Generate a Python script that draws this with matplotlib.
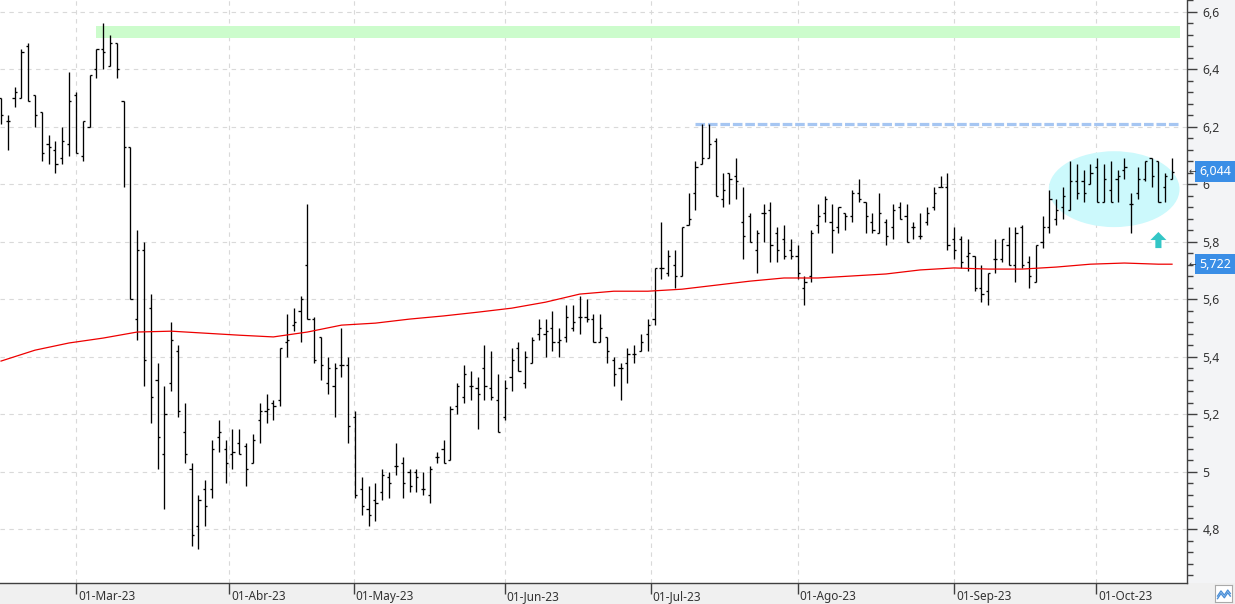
import matplotlib
matplotlib.use('Agg')
import matplotlib.pyplot as plt
from matplotlib.patches import Rectangle, Ellipse
from matplotlib.ticker import MultipleLocator, FuncFormatter
import matplotlib.transforms as mtransforms

plt.rcParams['font.family'] = ['Noto Sans', 'DejaVu Sans']

# Daily bars, 14-Feb-23 .. 17-Oct-23 (trading days)
opens = [6.30, 6.22, 6.30, 6.30, 6.48, 6.31, 6.25, 6.14, 6.12, 6.09, 6.14,
         6.31, 6.10, 6.20, 6.40, 6.47, 6.41, 6.49, 6.29, 6.13, 5.53, 5.77, 5.57,
         5.32, 5.06, 5.31, 5.42, 5.14, 5.01, 4.81, 4.94, 4.94, 5.12, 5.08,
         5.06, 5.10, 5.09, 5.03, 5.18, 5.21, 5.24, 5.25, 5.45, 5.51, 5.56, 5.72,
         5.53, 5.47, 5.31, 5.30, 5.37, 5.37,
         5.19, 4.94, 4.87, 4.90, 4.93, 4.98, 5.02, 5.03, 5.00, 5.00, 4.94, 4.92,
         5.05, 5.08, 5.04, 5.23, 5.26, 5.30, 5.29, 5.36, 5.29, 5.25,
         5.19, 5.33, 5.43, 5.31, 5.38, 5.48, 5.48, 5.50, 5.45, 5.47, 5.50, 5.54,
         5.54, 5.53, 5.45, 5.47, 5.39, 5.36, 5.38, 5.41, 5.42, 5.48,
         5.53, 5.71, 5.69, 5.72, 5.68, 5.86, 5.97, 6.07, 6.09, 6.15, 5.95, 6.04,
         6.03, 5.87, 5.89, 5.77, 5.90, 5.91, 5.83, 5.81, 5.77,
         5.75, 5.64, 5.68, 5.86, 5.90, 5.87, 5.85, 5.90, 5.89, 5.97, 5.94, 5.87,
         5.83, 5.87, 5.85, 5.92, 5.89, 5.85, 5.82, 5.87, 5.92, 5.99, 5.99,
         5.81, 5.81, 5.75, 5.75, 5.64, 5.63, 5.74, 5.74, 5.79, 5.72, 5.85, 5.73,
         5.66, 5.80, 5.85, 5.88, 5.92, 5.91, 6.01, 6.01, 6.00,
         6.06, 5.94, 5.98, 6.02, 6.05, 5.93, 5.97, 6.02, 6.09, 6.08, 5.99, 6.02]
highs = [6.30, 6.24, 6.34, 6.47, 6.49, 6.31, 6.25, 6.17, 6.15, 6.20, 6.39,
         6.32, 6.22, 6.38, 6.47, 6.56, 6.52, 6.49, 6.29, 6.13, 5.84, 5.80, 5.62,
         5.38, 5.30, 5.52, 5.44, 5.24, 5.03, 4.92, 4.97, 5.11, 5.18, 5.11,
         5.15, 5.15, 5.10, 5.13, 5.24, 5.27, 5.25, 5.43, 5.55, 5.57, 5.61, 5.93,
         5.54, 5.47, 5.40, 5.38, 5.50, 5.40,
         5.21, 4.98, 4.95, 4.96, 5.01, 5.00, 5.10, 5.05, 5.01, 5.01, 5.00, 5.02,
         5.07, 5.11, 5.23, 5.31, 5.37, 5.35, 5.33, 5.44, 5.42, 5.34,
         5.32, 5.43, 5.45, 5.42, 5.47, 5.53, 5.53, 5.56, 5.50, 5.58, 5.58, 5.61,
         5.60, 5.55, 5.55, 5.47, 5.40, 5.38, 5.43, 5.44, 5.48, 5.53,
         5.71, 5.87, 5.77, 5.77, 5.85, 5.97, 6.08, 6.21, 6.21, 6.16, 6.04, 6.04,
         6.09, 5.99, 5.90, 5.84, 5.93, 5.94, 5.85, 5.86, 5.81,
         5.79, 5.68, 5.84, 5.93, 5.96, 5.93, 5.92, 5.90, 5.98, 6.02, 5.94, 5.90,
         5.97, 5.88, 5.93, 5.94, 5.93, 5.87, 5.90, 5.92, 5.99, 6.03, 6.04,
         5.85, 5.82, 5.81, 5.75, 5.72, 5.69, 5.81, 5.81, 5.85, 5.85, 5.86, 5.75,
         5.79, 5.89, 5.98, 5.95, 5.99, 6.08, 6.07, 6.05, 6.07,
         6.09, 6.07, 6.08, 6.05, 6.09, 5.97, 6.06, 6.08, 6.09, 6.08, 6.04, 6.09]
lows = [6.21, 6.12, 6.27, 6.30, 6.29, 6.20, 6.08, 6.07, 6.04, 6.07, 6.10,
        6.11, 6.08, 6.20, 6.37, 6.40, 6.41, 6.37, 5.99, 5.60, 5.46, 5.30, 5.17,
        5.01, 4.87, 5.28, 5.19, 5.03, 4.74, 4.73, 4.81, 4.91, 5.07, 4.96,
        5.01, 5.06, 4.95, 5.03, 5.10, 5.17, 5.18, 5.23, 5.40, 5.49, 5.45, 5.53,
        5.38, 5.32, 5.27, 5.19, 5.33, 5.10,
        4.91, 4.85, 4.81, 4.83, 4.90, 4.91, 4.99, 4.91, 4.93, 4.93, 4.92, 4.89,
        5.03, 5.03, 5.04, 5.20, 5.24, 5.25, 5.15, 5.25, 5.25, 5.14,
        5.18, 5.28, 5.35, 5.29, 5.38, 5.46, 5.40, 5.42, 5.40, 5.45, 5.49, 5.48,
        5.52, 5.45, 5.45, 5.38, 5.30, 5.25, 5.31, 5.38, 5.42, 5.42,
        5.51, 5.67, 5.68, 5.64, 5.68, 5.86, 5.91, 6.07, 6.09, 5.96, 5.92, 5.93,
        5.95, 5.74, 5.80, 5.69, 5.80, 5.73, 5.73, 5.74, 5.74,
        5.67, 5.58, 5.66, 5.83, 5.87, 5.76, 5.83, 5.84, 5.87, 5.94, 5.83, 5.83,
        5.83, 5.79, 5.81, 5.88, 5.80, 5.81, 5.81, 5.86, 5.91, 5.99, 5.77,
        5.74, 5.71, 5.70, 5.63, 5.59, 5.58, 5.69, 5.73, 5.72, 5.66, 5.71, 5.64,
        5.66, 5.78, 5.83, 5.86, 5.88, 5.91, 5.95, 5.94, 6.00,
        5.94, 5.94, 5.94, 5.94, 6.02, 5.83, 5.95, 6.01, 5.99, 5.94, 5.94, 6.02]
closes = [6.24, 6.22, 6.32, 6.46, 6.29, 6.24, 6.11, 6.13, 6.07, 6.15, 6.29,
          6.11, 6.22, 6.38, 6.47, 6.46, 6.49, 6.40, 6.13, 5.60, 5.77, 5.39, 5.26,
          5.12, 5.20, 5.46, 5.21, 5.06, 4.78, 4.90, 4.88, 5.08, 5.14, 5.03,
          5.07, 5.06, 5.01, 5.11, 5.21, 5.22, 5.23, 5.43, 5.46, 5.52, 5.60, 5.53,
          5.39, 5.37, 5.36, 5.36, 5.37, 5.16,
          4.92, 4.88, 4.85, 4.89, 4.99, 4.96, 5.02, 4.96, 4.95, 4.98, 4.94, 5.01,
          5.05, 5.03, 5.22, 5.30, 5.34, 5.30, 5.27, 5.30, 5.26, 5.14,
          5.29, 5.39, 5.35, 5.40, 5.46, 5.50, 5.49, 5.45, 5.46, 5.54, 5.52, 5.54,
          5.53, 5.45, 5.50, 5.42, 5.34, 5.36, 5.41, 5.41, 5.45, 5.51,
          5.71, 5.71, 5.75, 5.68, 5.85, 5.88, 6.06, 6.09, 6.14, 5.96, 5.98, 6.02,
          6.01, 5.82, 5.80, 5.83, 5.90, 5.79, 5.77, 5.75, 5.75,
          5.69, 5.66, 5.83, 5.89, 5.95, 5.84, 5.92, 5.89, 5.97, 5.95, 5.89, 5.84,
          5.90, 5.82, 5.91, 5.88, 5.80, 5.85, 5.82, 5.90, 5.97, 5.99, 5.79,
          5.77, 5.73, 5.76, 5.64, 5.62, 5.69, 5.74, 5.81, 5.72, 5.83, 5.72, 5.68,
          5.79, 5.85, 5.95, 5.91, 5.96, 6.01, 5.97, 5.97, 6.04,
          5.94, 6.02, 5.94, 6.03, 6.06, 5.93, 6.02, 6.08, 6.03, 5.94, 6.03, 6.044]

# 200-session moving average, read every 5 sessions
ma_idx = [0, 5, 10, 15, 20, 25, 30, 35, 40, 45, 50, 55, 60, 65, 70, 75, 80, 85,
          90, 95, 100, 105, 110, 115, 120, 125, 130, 135, 140, 145, 150, 155,
          160, 165, 170, 172]
ma_vals = [5.385, 5.423, 5.448, 5.465, 5.486, 5.489, 5.482, 5.475, 5.469, 5.486,
           5.510, 5.517, 5.531, 5.542, 5.555, 5.569, 5.590, 5.618, 5.628, 5.628,
           5.635, 5.649, 5.663, 5.674, 5.674, 5.681, 5.688, 5.702, 5.709, 5.705,
           5.705, 5.712, 5.722, 5.726, 5.722, 5.722]

month_pos = [11, 33.5, 51.8, 74, 95.4, 117, 140, 160.9]
month_labels = ['01-Mar-23', '01-Abr-23', '01-May-23', '01-Jun-23',
                '01-Jul-23', '01-Ago-23', '01-Sep-23', '01-Oct-23']

last_close = 6.044
last_ma = 5.722
resistance = 6.209
top_zone = (6.509, 6.550)

x = list(range(len(closes)))
W, H = 1235, 604

fig = plt.figure(figsize=(W / 100, H / 100), dpi=100, facecolor='#f0f0f0')
fig.patches.append(Rectangle((1187 / W, 21 / H), 48 / W, 583 / H, transform=fig.transFigure,
                             facecolor='#f3f4f6', edgecolor='none', zorder=-1))
ax = fig.add_axes([0, 21 / H, 1187 / W, 583 / H])
ax.set_facecolor('white')
ax.set_xlim(-0.15, 174.2)
ax.set_ylim(4.613, 6.641)

# annotations drawn under the bars
ax.add_patch(Rectangle((13.95, top_zone[0]), 173.1 - 13.95, top_zone[1] - top_zone[0],
                       facecolor='#ccfccc', edgecolor='none', zorder=1))
ax.hlines(resistance, 101.9, 173.1, colors='#a6c6f2', lw=2.3,
          linestyles=(0, (3, 0.9)), zorder=1)
ax.add_patch(Ellipse((163.5, 5.983), 19.2, 0.264, facecolor='#ccf9fc',
                     edgecolor='none', zorder=1.5))
ax.arrow(170.0, 5.778, 0, 0.056, width=0.9, head_width=2.35, head_length=0.028,
         length_includes_head=True, color='#33c6c6', lw=0, zorder=2)

# OHLC bars
ax.vlines(x, lows, highs, colors='black', lw=0.95, zorder=3)
ax.hlines(opens, [i - 0.32 for i in x], x, colors='black', lw=0.95, zorder=3)
ax.hlines(closes, x, [i + 0.32 for i in x], colors='black', lw=0.95, zorder=3)

ax.plot(ma_idx, ma_vals, color='#ee0000', lw=0.9, zorder=4)

# axes styling
for s in ['top', 'left']:
    ax.spines[s].set_visible(False)
for s in ['right', 'bottom']:
    ax.spines[s].set_color('#404040')
    ax.spines[s].set_linewidth(1.0)

ax.yaxis.tick_right()
ax.yaxis.set_major_locator(MultipleLocator(0.2))
ax.yaxis.set_minor_locator(MultipleLocator(0.04))
ax.yaxis.set_major_formatter(FuncFormatter(lambda v, p: f'{round(v, 2):g}'.replace('.', ',')))
ax.tick_params(axis='y', which='major', direction='out', length=7, width=1,
               color='#404040', labelsize=8.8, labelcolor='#333333', pad=4,
               right=True, labelright=True, left=False, labelleft=False)
ax.tick_params(axis='y', which='minor', direction='out', length=4, width=1,
               color='#404040', right=True, left=False)

ax.set_xticks(month_pos)
ax.set_xticklabels(month_labels)
ax.tick_params(axis='x', direction='out', length=8, width=1, color='#404040',
               labelsize=8.5, labelcolor='#333333', pad=-3)
offset = mtransforms.ScaledTranslation(2 / 100, 0, fig.dpi_scale_trans)
for lbl in ax.get_xticklabels():
    lbl.set_ha('left')
    lbl.set_transform(lbl.get_transform() + offset)

ax.grid(True, which='major', ls=(0, (4, 4)), color='#d9d9d9', lw=0.8)
ax.set_axisbelow(True)

# last value boxes on the price axis
for val in [last_close, last_ma]:
    ax.text(1.0 + 12 / 1187, val, f'{val:.3f}'.replace('.', ','),
            transform=ax.get_yaxis_transform(), va='center', ha='left',
            fontsize=9, color='white', zorder=10, clip_on=False,
            bbox=dict(boxstyle='square,pad=0.3', facecolor='#3a8ee6', edgecolor='none'))
    ax.text(1.0 + 2 / 1187, val, '←', transform=ax.get_yaxis_transform(),
            va='center', ha='left', fontsize=6.5, color='#333333', zorder=10, clip_on=False)

# small chart-type icon in the bottom-right corner
icon = fig.add_axes([1215 / W, 2 / H, 17 / W, 17 / H])
icon.set_xticks([])
icon.set_yticks([])
icon.set_facecolor('white')
for s in icon.spines.values():
    s.set_color('#aaaaaa')
icon.plot([0.15, 0.35, 0.55, 0.75, 0.9], [0.35, 0.65, 0.4, 0.7, 0.5], color='#4a8fd8', lw=1)
icon.plot([0.15, 0.35, 0.55, 0.75, 0.9], [0.2, 0.5, 0.25, 0.55, 0.35], color='#4a8fd8', lw=1)
icon.set_xlim(0, 1)
icon.set_ylim(0, 1)

fig.savefig('out.png', dpi=100, facecolor=fig.get_facecolor())
